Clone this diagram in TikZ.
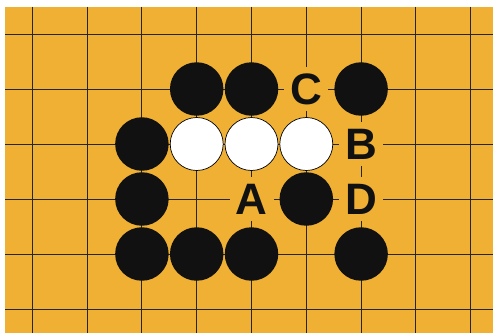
\documentclass[tikz,border=0pt]{standalone}
\usepackage{fontspec}
\setmainfont{Liberation Sans}
\definecolor{board}{HTML}{EFB033}
\definecolor{stoneblack}{HTML}{111111}
\begin{document}
\begin{tikzpicture}[x=1pt,y=-1pt,
  gridline/.style={line width=0.9pt,draw=black!85},
  blackstone/.style={circle,fill=stoneblack,minimum size=53.5pt,inner sep=0pt},
  whitestone/.style={circle,fill=white,draw=black,line width=0.7pt,minimum size=53pt,inner sep=0pt},
  pointlabel/.style={fill=board,minimum width=44pt,minimum height=44pt,inner sep=0pt,
     font=\fontsize{44}{44}\selectfont\bfseries,text=stoneblack}]
\useasboundingbox (0,0) rectangle (493,333);
\fill[white] (0,0) rectangle (493,333);
\fill[board] (5,6.7) rectangle (493,333);
\foreach \i in {0,...,8} \draw[gridline] ({32.3+54.8*\i},6.7) -- ({32.3+54.8*\i},333);
\foreach \j in {0,...,5} \draw[gridline] (5,{34+55*\j}) -- (493,{34+55*\j});
\def\cx#1{32.3+54.8*#1}
\def\cy#1{34+55*#1}
% labels
\node[pointlabel] (C) at ({\cx{5}},{\cy{1}}) {C};
\node[pointlabel] (B) at ({\cx{6}},{\cy{2}}) {B};
\node[pointlabel] (A) at ({\cx{4}},{\cy{3}}) {A};
\node[pointlabel] (D) at ({\cx{6}},{\cy{3}}) {D};
% black stones
\node[blackstone] (b31) at ({\cx{3}},{\cy{1}}) {};
\node[blackstone] (b41) at ({\cx{4}},{\cy{1}}) {};
\node[blackstone] (b61) at ({\cx{6}},{\cy{1}}) {};
\node[blackstone] (b22) at ({\cx{2}},{\cy{2}}) {};
\node[blackstone] (b23) at ({\cx{2}},{\cy{3}}) {};
\node[blackstone] (b53) at ({\cx{5}},{\cy{3}}) {};
\node[blackstone] (b24) at ({\cx{2}},{\cy{4}}) {};
\node[blackstone] (b34) at ({\cx{3}},{\cy{4}}) {};
\node[blackstone] (b44) at ({\cx{4}},{\cy{4}}) {};
\node[blackstone] (b64) at ({\cx{6}},{\cy{4}}) {};
% white stones
\node[whitestone] (w32) at ({\cx{3}},{\cy{2}}) {};
\node[whitestone] (w42) at ({\cx{4}},{\cy{2}}) {};
\node[whitestone] (w52) at ({\cx{5}},{\cy{2}}) {};
\end{tikzpicture}
\end{document}
